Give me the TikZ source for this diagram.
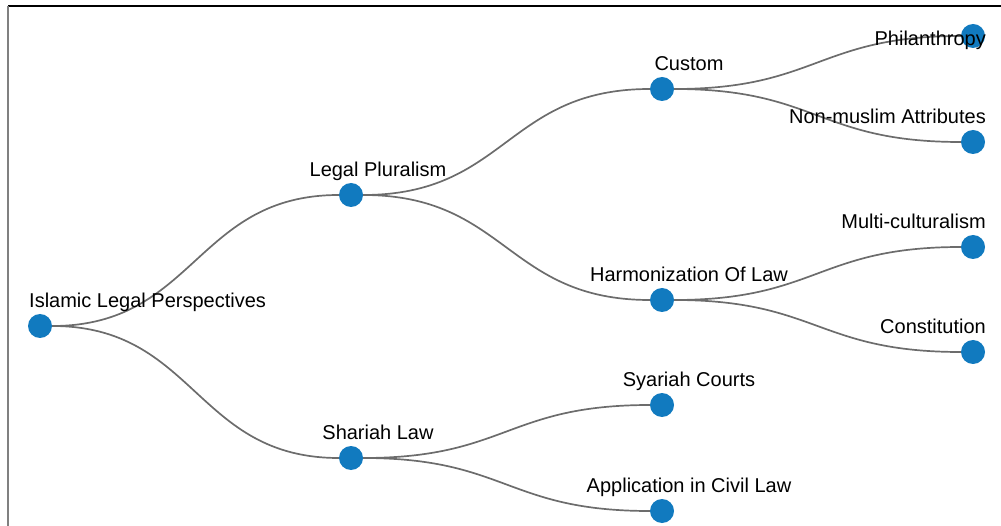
\documentclass[tikz,border=0pt]{standalone}
\usepackage{fontspec}
\setmainfont{Liberation Sans}
\usetikzlibrary{backgrounds}
\definecolor{nodeblue}{RGB}{17,122,191}
\definecolor{linkgray}{RGB}{108,108,108}

\begin{document}
\begin{tikzpicture}[x=1pt, y=-1pt,
    label distance=2pt,
    every node/.style={
    fill=nodeblue,
    circle,
    inner sep=0pt,
    minimum size=24pt},
    every label/.style={
    rectangle,
    fill=none,
    minimum size=0pt,
    font=\fontsize{20}{24}\selectfont,
    text depth=4pt},
    mid/.style={xshift=27pt},
    leaf/.style={anchor=south east, xshift=13pt},
    link/.style={draw=linkgray, line width=1.7pt}]

    \useasboundingbox (0,0) rectangle (1001,526);

    \node[label={[anchor=south west, xshift=-11pt]above:Islamic Legal Perspectives}] (root) at (40,326) {};

    \node[label={[mid]above:Legal Pluralism}] (plural) at (351,195) {};
    \node[label={[mid]above:Shariah Law}] (shariah) at (351,458) {};

    \node[label={[mid]above:Custom}] (custom) at (662,89) {};
    \node[label={[mid]above:Harmonization Of Law}] (harmon) at (662,300) {};
    \node[label={[mid]above:Syariah Courts}] (courts) at (662,405) {};
    \node[label={[mid]above:Application in Civil Law}] (civil) at (662,511) {};

    \node[label={[leaf, yshift=-28pt]above:Philanthropy}] (philan) at (973,36) {};
    \node[label={[leaf]above:Non-muslim Attributes}] (nonmuslim) at (973,142) {};
    \node[label={[leaf]above:Multi-culturalism}] (multi) at (973,247) {};
    \node[label={[leaf]above:Constitution}] (constit) at (973,352) {};

    \begin{scope}[on background layer]
    \draw[link] (root) .. controls +(155.5,0) and +(-155.5,0) .. (plural);
    \draw[link] (root) .. controls +(155.5,0) and +(-155.5,0) .. (shariah);
    \draw[link] (plural) .. controls +(155.5,0) and +(-155.5,0) .. (custom);
    \draw[link] (plural) .. controls +(155.5,0) and +(-155.5,0) .. (harmon);
    \draw[link] (shariah) .. controls +(155.5,0) and +(-155.5,0) .. (courts);
    \draw[link] (shariah) .. controls +(155.5,0) and +(-155.5,0) .. (civil);
    \draw[link] (custom) .. controls +(155.5,0) and +(-155.5,0) .. (philan);
    \draw[link] (custom) .. controls +(155.5,0) and +(-155.5,0) .. (nonmuslim);
    \draw[link] (harmon) .. controls +(155.5,0) and +(-155.5,0) .. (multi);
    \draw[link] (harmon) .. controls +(155.5,0) and +(-155.5,0) .. (constit);
    \end{scope}

    % frame
    \draw[line width=1.5pt] (8,6) -- (1001,6);
    \draw[gray, line width=2pt] (8,6) -- (8,526);
\end{tikzpicture}
\end{document}
